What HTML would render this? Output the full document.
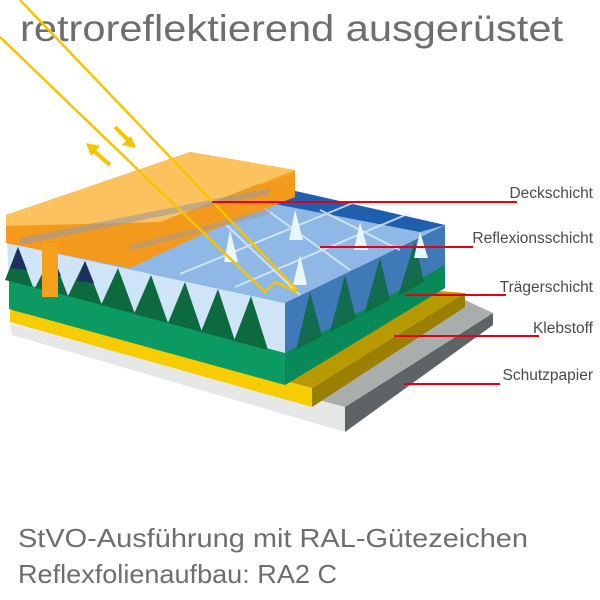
<!DOCTYPE html>
<html><head><meta charset="utf-8"><style>
html,body{margin:0;padding:0;background:#fff;}
svg{display:block;}
text{font-family:"Liberation Sans","DejaVu Sans",sans-serif;fill:#6e6e6e;}
</style></head><body>
<svg width="600" height="600" viewBox="0 0 600 600" xmlns="http://www.w3.org/2000/svg">
<text x="20" y="41" font-size="37" textLength="543" lengthAdjust="spacingAndGlyphs">retroreflektierend ausgerüstet</text>

<!-- gray base -->
<polygon points="10,325 160,285 493,313 345,407" fill="#e9ecec"/>
<polygon points="10,325 345,407 345,432 12,335" fill="#e6e8e8"/>
<polygon points="345,407 493,313 493,325 345,432" fill="#5e6466"/>
<polygon points="300,395 465,300 493,313 345,407" fill="#a8aeab"/>
<!-- yellow -->
<polygon points="10,310 160,270 465,293 312,388" fill="#b89a00"/>
<polygon points="10,310 312,388 312,407 10,322" fill="#f7cc00"/>
<polygon points="312,388 465,293 465,307 312,407" fill="#9a7f00"/>
<!-- green -->
<polygon points="9,280 445,265 445,288 285,385 9,309" fill="#0b9a62"/>
<polygon points="285,353 445,265 445,288 285,385" fill="#078a58"/>
<!-- blue prism layer front face -->
<polygon points="7,243 285,303 285,353 9,280" fill="#cfe4f6"/>
<!-- teeth -->
<g fill="#0d6a3e">
<polygon points="18,247 5,280 33,287"/>
<polygon points="52,254 35,288 68,296"/>
<polygon points="85,261 68,296 102,305"/>
<polygon points="118,268 101,305 135,314"/>
<polygon points="151,275 134,314 168,323"/>
<polygon points="185,282 168,323 202,332"/>
<polygon points="218,289 201,332 235,341"/>
<polygon points="251,296 234,341 268,350"/>
</g>
<g fill="#1c2f5e">
<polygon points="18,247 10,268 27,270"/>
<polygon points="52,254 44,274 61,276"/>
<polygon points="85,261 77,281 94,283"/>
</g>
<!-- right face blue -->
<polygon points="285,303 445,225 445,265 285,353" fill="#3f79b8"/>
<g fill="#0d6a3e" opacity="0.85">
<polygon points="310,292 296,350 322,336"/>
<polygon points="345,275 330,332 356,318"/>
<polygon points="380,258 364,314 390,300"/>
<polygon points="415,241 398,296 424,282"/>
</g>
<!-- blue top -->
<polygon points="7,243 167,165 445,225 285,303" fill="#8fb8e6"/>
<polygon points="167,165 300,192 445,225 420,232 150,180" fill="#1f5fae"/>
<g stroke="#dbeefc" stroke-width="2" opacity="0.8">
<line x1="120" y1="262" x2="300" y2="185"/>
<line x1="180" y1="274" x2="360" y2="200"/>
<line x1="235" y1="287" x2="410" y2="213"/>
<line x1="200" y1="200" x2="300" y2="295"/>
<line x1="260" y1="205" x2="350" y2="270"/>
<line x1="320" y1="210" x2="400" y2="250"/>
</g>
<g fill="#eaf6ff">
<polygon points="230,230 224,262 238,262"/>
<polygon points="295,210 289,240 303,240"/>
<polygon points="360,222 354,250 368,250"/>
<polygon points="300,255 293,285 307,285"/>
<polygon points="420,232 414,258 428,258"/>
</g>

<!-- orange slab -->
<polygon points="6,215 190,152 295,170 295,197 200,235 130,268 6,243" fill="#f6a21e" opacity="0.9"/>
<polygon points="6,215 190,152 295,170 160,222 6,226" fill="#fbc25e"/>
<polygon points="6,226 160,222 295,172 295,197 200,235 130,268 6,243" fill="#f39a1c" opacity="0.95"/>
<polygon points="20,238 270,188 270,194 20,245" fill="#9b9aa0" opacity="0.6"/>
<polygon points="130,245 270,208 270,214 130,251" fill="#9b9aa0" opacity="0.5"/>
<rect x="42" y="243" width="16" height="54" fill="#f5a11e"/>

<!-- rays -->
<g stroke="#f7c400" stroke-width="2.5" fill="none">
<polyline points="0,37 265,292 275,282 297,292"/>
<line x1="20" y1="0" x2="297" y2="290"/>
</g>
<g stroke="#f7c400" stroke-width="4" fill="#f7c400">
<line x1="110" y1="165" x2="93" y2="150"/>
<polygon points="86,143 100,146 91,156" stroke="none"/>
<line x1="115" y1="127" x2="130" y2="142"/>
<polygon points="136,148 122,145 131,136" stroke="none"/>
</g>

<!-- labels -->
<g stroke="#e2001a" stroke-width="2">
<line x1="212" y1="202" x2="517" y2="202"/>
<line x1="320" y1="247" x2="473" y2="247"/>
<line x1="405" y1="295" x2="506" y2="295"/>
<line x1="394" y1="336" x2="539" y2="336"/>
<line x1="404" y1="384" x2="500" y2="384"/>
</g>
<g font-size="15.5" text-anchor="end" style="fill:#4a4a4a">
<text x="593" y="198" style="fill:#4a4a4a">Deckschicht</text>
<text x="593" y="243" style="fill:#4a4a4a">Reflexionsschicht</text>
<text x="593" y="292" style="fill:#4a4a4a">Trägerschicht</text>
<text x="593" y="333" style="fill:#4a4a4a">Klebstoff</text>
<text x="593" y="380" style="fill:#4a4a4a">Schutzpapier</text>
</g>

<text x="18" y="547" font-size="26" textLength="510" lengthAdjust="spacingAndGlyphs">StVO-Ausführung mit RAL-Gütezeichen</text>
<text x="18" y="583" font-size="26" textLength="319" lengthAdjust="spacingAndGlyphs">Reflexfolienaufbau: RA2 C</text>
</svg>
</body></html>
